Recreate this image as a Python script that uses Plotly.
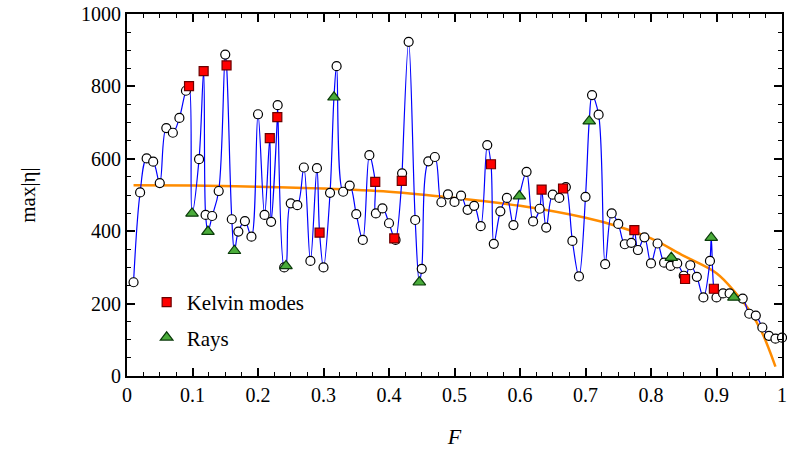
import plotly.graph_objects as go

# grid samples (white circles)
circle_F = [0.01, 0.02, 0.03, 0.04, 0.05, 0.06, 0.07, 0.08, 0.09,
            0.11, 0.12, 0.13, 0.14, 0.15, 0.16, 0.17, 0.18, 0.19, 0.20,
            0.21, 0.22, 0.23, 0.24, 0.25, 0.26, 0.27, 0.28, 0.29, 0.30,
            0.31, 0.32, 0.33, 0.34, 0.35, 0.36, 0.37, 0.38, 0.39, 0.40,
            0.41, 0.42, 0.43, 0.44, 0.45, 0.46, 0.47, 0.48, 0.49, 0.50,
            0.51, 0.52, 0.53, 0.54, 0.55, 0.56, 0.57, 0.58, 0.59,
            0.61, 0.62, 0.63, 0.64, 0.65, 0.66, 0.67, 0.68, 0.69, 0.70,
            0.71, 0.72, 0.73, 0.74, 0.75, 0.76, 0.77, 0.78, 0.79, 0.80,
            0.81, 0.82, 0.83, 0.84, 0.85, 0.86, 0.87, 0.88, 0.89, 0.90,
            0.91, 0.92, 0.94, 0.95, 0.96, 0.97, 0.98, 0.99, 1.00]
circle_eta = [259, 507, 601, 592, 533, 685, 672, 713, 788,
              599, 445, 442, 511, 888, 433, 399, 428, 385, 723,
              445, 426, 748, 300, 477, 472, 576, 318, 574, 300,
              506, 856, 509, 526, 447, 376, 610, 449, 463, 422,
              376, 560, 923, 431, 296, 593, 605, 480, 502, 481,
              498, 459, 470, 414, 638, 365, 455, 492, 417,
              564, 427, 462, 410, 501, 492, 522, 373, 275, 495,
              776, 722, 309, 449, 420, 364, 368, 348, 383, 311,
              366, 313, 304, 311, 277, 306, 274, 217, 318, 217,
              228, 228, 214, 172, 167, 134, 111, 103, 106]

# Kelvin modes (red squares)
kelvin_F = [0.0947, 0.117, 0.152, 0.218, 0.2295, 0.294, 0.379, 0.408, 0.4195,
            0.5557, 0.633, 0.6657, 0.7746, 0.852, 0.896]
kelvin_eta = [801, 842, 858, 657, 715, 396, 536, 380, 539,
              585, 515, 518, 403, 268, 241]

# Rays (green triangles)
rays_F = [0.0993, 0.1236, 0.164, 0.2427, 0.316, 0.4463, 0.599, 0.7057, 0.831, 0.892, 0.9266]
rays_eta = [449, 399, 346, 304, 770, 259, 497, 704, 327, 382, 217]

# orange reference curve
curve_F = [0.01, 0.1, 0.2, 0.3, 0.4, 0.5, 0.6, 0.7, 0.75, 0.8, 0.85, 0.9, 0.93, 0.95, 0.97, 0.99]
curve_eta = [527, 526, 523, 518, 509, 492, 470, 437, 413, 380, 332, 284, 228, 182, 118, 26]

all_pts = sorted(list(zip(circle_F, circle_eta)) + list(zip(kelvin_F, kelvin_eta)) +
                 list(zip(rays_F, rays_eta)))
line_F = [p[0] for p in all_pts]
line_eta = [p[1] for p in all_pts]

FONT = "Liberation Serif"

fig = go.Figure()
fig.add_trace(go.Scatter(x=curve_F, y=curve_eta, mode="lines",
                         line=dict(color="#ff8c00", width=2.5, shape="spline"),
                         showlegend=False, hoverinfo="skip"))
fig.add_trace(go.Scatter(x=line_F, y=line_eta, mode="lines",
                         line=dict(color="#0000ff", width=1.2, shape="spline", smoothing=1),
                         showlegend=False, hoverinfo="skip"))
fig.add_trace(go.Scatter(x=circle_F, y=circle_eta, mode="markers",
                         marker=dict(symbol="circle", size=9, color="white",
                                     line=dict(color="black", width=1.2)),
                         showlegend=False, cliponaxis=False))
fig.add_trace(go.Scatter(x=kelvin_F, y=kelvin_eta, mode="markers", name="Kelvin modes",
                         legendgroup="k",
                         marker=dict(symbol="square", size=9, color="#ff0000",
                                     line=dict(color="#6b0000", width=1.2))))
fig.add_trace(go.Scatter(x=rays_F, y=rays_eta, mode="markers", name="Rays",
                         legendgroup="r",
                         marker=dict(symbol="triangle-up", size=11, color="#4aac3a",
                                     line=dict(color="#0a3a0a", width=1.2))))

axis_common = dict(showline=True, linecolor="black", linewidth=2, mirror="allticks",
                   ticks="inside", tickcolor="black", tickwidth=1.5, ticklen=8,
                   showgrid=False, zeroline=False, ticklabeloverflow="allow",
                   tickfont=dict(family=FONT, size=20, color="black"))

fig.update_xaxes(range=[0, 1], tickvals=[0, 0.1, 0.2, 0.3, 0.4, 0.5, 0.6, 0.7, 0.8, 0.9, 1],
                 ticktext=["0", "0.1", "0.2", "0.3", "0.4", "0.5", "0.6", "0.7", "0.8", "0.9", "1"],
                 minor=dict(dtick=0.025, ticks="inside", ticklen=4, tickcolor="black", tickwidth=1.2),
                 title=dict(text="<i>F</i>", font=dict(family=FONT, size=22, color="black"), standoff=24),
                 automargin=False, **axis_common)
fig.update_yaxes(range=[0, 1000], tickvals=[0, 200, 400, 600, 800, 1000],
                 minor=dict(dtick=50, ticks="inside", ticklen=4, tickcolor="black", tickwidth=1.2),
                 title=dict(text="max|η|", font=dict(family=FONT, size=21, color="black"), standoff=40),
                 automargin=False, **axis_common)

fig.update_layout(
    width=787, height=449,
    margin=dict(l=127, r=5, t=14, b=73),
    plot_bgcolor="white", paper_bgcolor="white",
    legend=dict(x=0.03, y=0.26, xanchor="left", yanchor="top",
                bgcolor="rgba(0,0,0,0)", font=dict(family=FONT, size=21, color="black"),
                traceorder="grouped", tracegroupgap=5, itemwidth=30),
)

fig.write_html("out.html")
